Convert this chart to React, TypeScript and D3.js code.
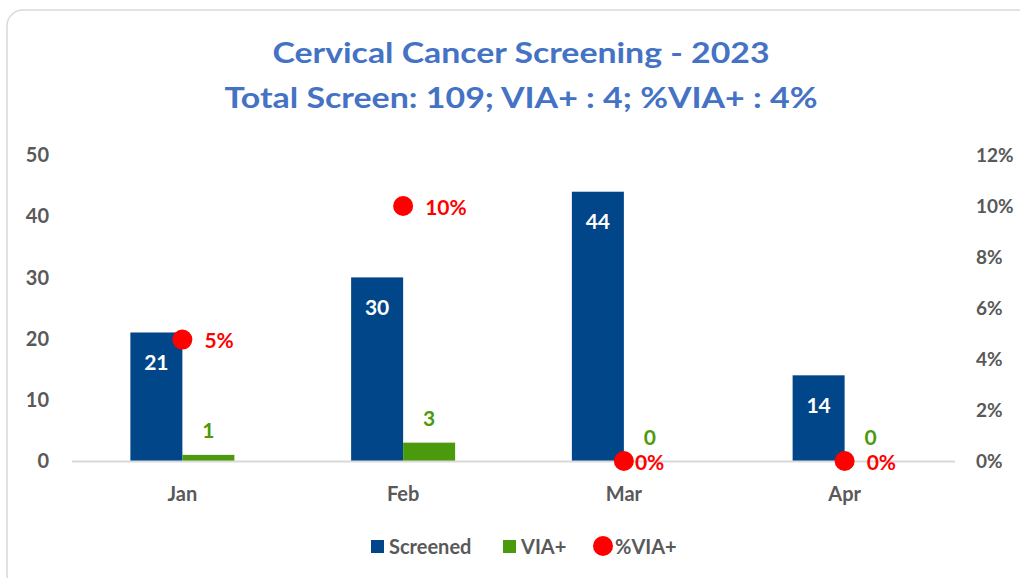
import React, { useEffect, useRef } from "react";
import * as d3 from "d3";

const months = ["Jan", "Feb", "Mar", "Apr"];
const screened = [21, 30, 44, 14];
const viaPos = [1, 3, 0, 0];
const leftTicks = [0, 10, 20, 30, 40, 50];
const rightTicks = [0, 0.02, 0.04, 0.06, 0.08, 0.1, 0.12];
const titleLines = [
  "Cervical Cancer Screening - 2023",
  "Total Screen: 109; VIA+ : 4; %VIA+ : 4%",
];

const FONT = "Lato, 'Open Sans', sans-serif";
const BLUE = "#02468a";
const GREEN = "#4a9a0c";
const RED = "#ff0000";
const AXIS = "#595959";

const App = () => {
  const chartRef = useRef<HTMLDivElement>(null);

  useEffect(() => {
    const width = 1020;
    const height = 578;
    const margin = { top: 155, right: 65, bottom: 117, left: 72 };
    const innerW = width - margin.left - margin.right;
    const innerH = height - margin.top - margin.bottom;

    // page fills the window exactly, no scrollbars
    document.body.style.margin = "0";
    document.documentElement.style.overflow = "hidden";

    d3.select(chartRef.current).selectAll("*").remove();

    const root = d3
      .select(chartRef.current)
      .append("svg")
      .attr("width", width)
      .attr("height", height)
      .style("display", "block")
      .style("font-family", FONT);

    // frame
    root
      .append("rect")
      .attr("x", 7)
      .attr("y", 10)
      .attr("width", 1030)
      .attr("height", 580)
      .attr("rx", 16)
      .attr("fill", "#fff")
      .attr("stroke", "#d9d9d9")
      .attr("stroke-width", 1.5);

    // title
    const titleWidths = [497, 593];
    root
      .selectAll("text.title")
      .data(titleLines)
      .join("text")
      .attr("class", "title")
      .attr("x", 521)
      .attr("y", (d, i) => 63 + i * 45)
      .attr("text-anchor", "middle")
      .attr("font-size", 29)
      .attr("font-weight", 700)
      .attr("fill", "#4472c4")
      .attr("textLength", (d, i) => titleWidths[i])
      .attr("lengthAdjust", "spacingAndGlyphs")
      .text((d) => d);

    const svg = root
      .append("g")
      .attr("transform", `translate(${margin.left},${margin.top})`);

    const x0 = d3.scaleBand().domain(months).range([0, innerW]).padding(0);
    const barW = 52;
    const y = d3.scaleLinear().domain([0, 50]).range([innerH, 0]);
    const y2 = d3.scaleLinear().domain([0, 0.12]).range([innerH, 0]);
    const cx = (m: string) => (x0(m) as number) + x0.bandwidth() / 2;

    // left axis labels
    svg
      .selectAll("text.ly")
      .data(leftTicks)
      .join("text")
      .attr("class", "ly")
      .attr("x", -23)
      .attr("y", (d) => y(d))
      .attr("dy", "0.36em")
      .attr("text-anchor", "end")
      .attr("font-size", 20)
      .attr("font-weight", 700)
      .attr("fill", AXIS)
      .text((d) => d);

    // right axis labels
    svg
      .selectAll("text.ry")
      .data(rightTicks)
      .join("text")
      .attr("class", "ry")
      .attr("x", innerW + 21)
      .attr("y", (d) => y2(d))
      .attr("dy", "0.36em")
      .attr("text-anchor", "start")
      .attr("font-size", 19)
      .attr("font-weight", 700)
      .attr("fill", AXIS)
      .text((d) => d3.format(".0%")(d));

    // screened bars
    svg
      .selectAll("rect.scr")
      .data(months)
      .join("rect")
      .attr("class", "scr")
      .attr("x", (d) => cx(d) - barW)
      .attr("y", (d, i) => y(screened[i]))
      .attr("width", barW)
      .attr("height", (d, i) => innerH - y(screened[i]))
      .attr("fill", BLUE);

    // VIA+ bars
    svg
      .selectAll("rect.via")
      .data(months)
      .join("rect")
      .attr("class", "via")
      .attr("x", (d) => cx(d))
      .attr("y", (d, i) => y(viaPos[i]))
      .attr("width", barW)
      .attr("height", (d, i) => innerH - y(viaPos[i]))
      .attr("fill", GREEN);

    // baseline
    svg
      .append("line")
      .attr("x1", 0)
      .attr("x2", innerW)
      .attr("y1", innerH + 0.5)
      .attr("y2", innerH + 0.5)
      .attr("stroke", "#d9d9d9")
      .attr("stroke-width", 2);

    // category labels
    svg
      .selectAll("text.cat")
      .data(months)
      .join("text")
      .attr("class", "cat")
      .attr("x", (d) => cx(d))
      .attr("y", innerH + 40)
      .attr("text-anchor", "middle")
      .attr("font-size", 20)
      .attr("font-weight", 700)
      .attr("fill", AXIS)
      .text((d) => d);

    // screened labels
    svg
      .selectAll("text.scrl")
      .data(months)
      .join("text")
      .attr("class", "scrl")
      .attr("x", (d) => cx(d) - barW / 2)
      .attr("y", (d, i) => y(screened[i]) + 30)
      .attr("dy", "0.36em")
      .attr("text-anchor", "middle")
      .attr("font-size", 21)
      .attr("font-weight", 700)
      .attr("fill", "#fff")
      .text((d, i) => screened[i]);

    // VIA+ labels
    svg
      .selectAll("text.vial")
      .data(months)
      .join("text")
      .attr("class", "vial")
      .attr("x", (d) => cx(d) + barW / 2)
      .attr("y", (d, i) => y(viaPos[i]) - 24)
      .attr("dy", "0.36em")
      .attr("text-anchor", "middle")
      .attr("font-size", 21)
      .attr("font-weight", 700)
      .attr("fill", GREEN)
      .text((d, i) => viaPos[i]);

    // %VIA+ points
    const pct = months.map((m, i) => viaPos[i] / screened[i]);
    const pctLabelDx = [22, 22, 11, 22];
    svg
      .selectAll("circle.pct")
      .data(months)
      .join("circle")
      .attr("class", "pct")
      .attr("cx", (d) => cx(d))
      .attr("cy", (d, i) => y2(pct[i]))
      .attr("r", 10)
      .attr("fill", RED);

    svg
      .selectAll("text.pctl")
      .data(months)
      .join("text")
      .attr("class", "pctl")
      .attr("x", (d, i) => cx(d) + pctLabelDx[i])
      .attr("y", (d, i) => y2(pct[i]) + 1)
      .attr("dy", "0.36em")
      .attr("font-size", 21)
      .attr("font-weight", 700)
      .attr("fill", RED)
      .text((d, i) => d3.format(".0%")(pct[i]));

    // legend
    const legend = root.append("g").attr("transform", "translate(0,546)");
    const items = [
      { name: "Screened", color: BLUE, shape: "rect", x: 371 },
      { name: "VIA+", color: GREEN, shape: "rect", x: 503 },
      { name: "%VIA+", color: RED, shape: "circle", x: 593 },
    ];
    items.forEach((it) => {
      if (it.shape === "rect") {
        legend
          .append("rect")
          .attr("x", it.x)
          .attr("y", -6)
          .attr("width", 13)
          .attr("height", 13)
          .attr("fill", it.color);
      } else {
        legend
          .append("circle")
          .attr("cx", it.x + 10)
          .attr("cy", 0)
          .attr("r", 10)
          .attr("fill", it.color);
      }
      legend
        .append("text")
        .attr("x", it.shape === "rect" ? it.x + 18 : it.x + 22)
        .attr("y", 1)
        .attr("dy", "0.36em")
        .attr("font-size", 20)
        .attr("font-weight", 700)
        .attr("fill", AXIS)
        .text(it.name);
    });
  }, []);

  return <div ref={chartRef}></div>;
};

export default App;
